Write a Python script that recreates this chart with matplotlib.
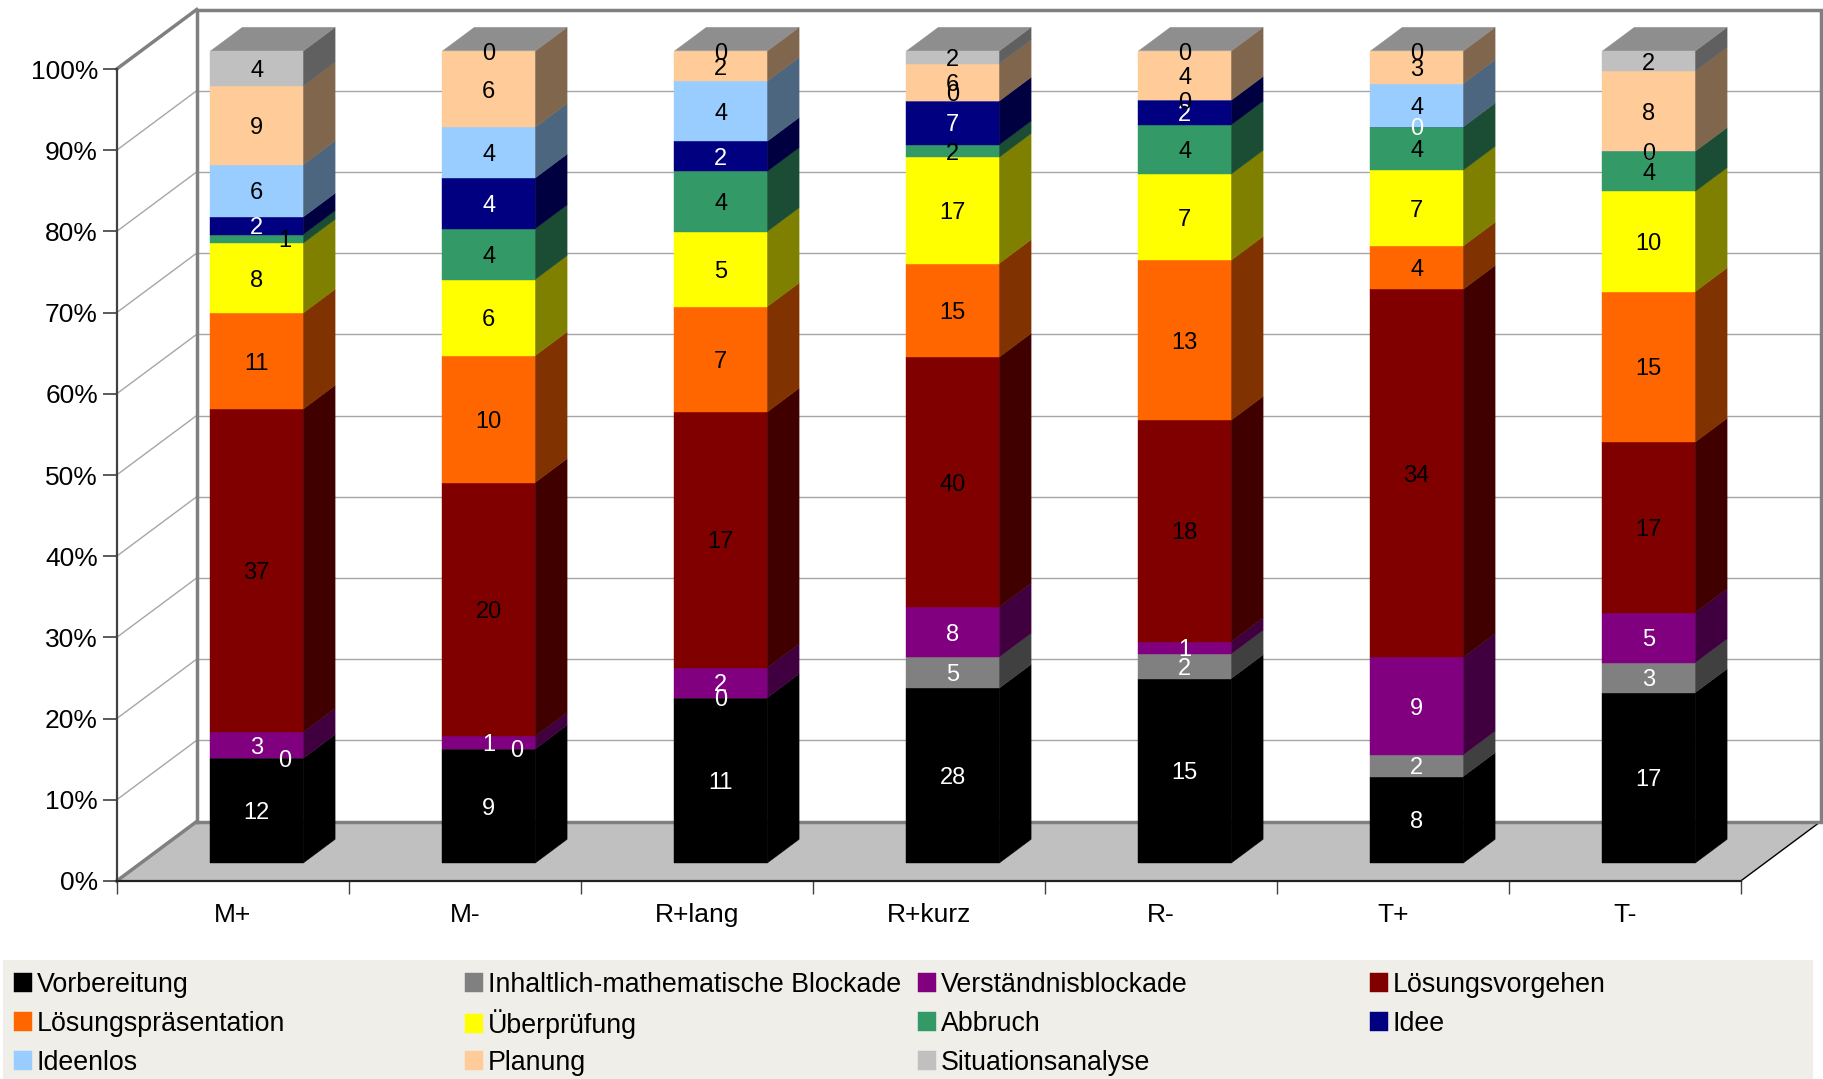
import numpy as np
import matplotlib
matplotlib.use("Agg")
import matplotlib.pyplot as plt
from matplotlib.patches import Polygon, Rectangle
from matplotlib.ticker import PercentFormatter, FixedLocator, NullFormatter
from matplotlib.colors import to_rgb

plt.rcParams['font.family'] = ['Liberation Sans', 'DejaVu Sans']

# ---- data -------------------------------------------------------------
categories = ["M+", "M-", "R+lang", "R+kurz", "R-", "T+", "T-"]

series_names = [
    "Vorbereitung",
    "Inhaltlich-mathematische Blockade",
    "Verständnisblockade",
    "Lösungsvorgehen",
    "Lösungspräsentation",
    "Überprüfung",
    "Abbruch",
    "Idee",
    "Ideenlos",
    "Planung",
    "Situationsanalyse",
]

vorbereitung = [12, 9, 11, 28, 15, 8, 17]
inhaltlich = [0, 0, 0, 5, 2, 2, 3]
verstaendnis = [3, 1, 2, 8, 1, 9, 5]
loesungsvorgehen = [37, 20, 17, 40, 18, 34, 17]
praesentation = [11, 10, 7, 15, 13, 4, 15]
ueberpruefung = [8, 6, 5, 17, 7, 7, 10]
abbruch = [1, 4, 4, 2, 4, 4, 4]
idee = [2, 4, 2, 7, 2, 0, 0]
ideenlos = [6, 4, 4, 0, 0, 4, 0]
planung = [9, 6, 2, 6, 4, 3, 8]
situation = [4, 0, 0, 2, 0, 0, 2]

series_values = [vorbereitung, inhaltlich, verstaendnis, loesungsvorgehen,
                 praesentation, ueberpruefung, abbruch, idee, ideenlos,
                 planung, situation]

series_colors = ["#000000", "#808080", "#800080", "#800000", "#FF6600",
                 "#FFFF00", "#339966", "#000080", "#99CCFF", "#FFCC99",
                 "#C0C0C0"]
label_colors = ["white", "white", "white", "black", "black", "black",
                "black", "white", "black", "black", "black"]

# small offsets (points) for labels that would otherwise collide
label_nudge = {
    (0, 1): (20, 0),
    (0, 6): (20, 0),
    (1, 1): (20, 0),
    (3, 8): (0, 6),
}

# ---- figure / geometry -----------------------------------------------
W, H = 1823, 1079
fig = plt.figure(figsize=(W / 100, H / 100), dpi=100)
fig.patch.set_facecolor("white")

x0_px, y0_px = 116.7, 881.0
cat_px, pct_px = 232.0, 8.12
ax = fig.add_axes([x0_px / W, (H - y0_px) / H, 7 * cat_px / W, 100 * pct_px / H])
ax.set_xlim(0, 7)
ax.set_ylim(0, 100)
ax.patch.set_alpha(0)

DX = 80.0 / cat_px        # depth of the box, in category units
DY = 59.5 / pct_px        # depth of the box, in percent units
F0, F1 = 0.30, 0.70       # front / back depth of the columns
BAR_W = 0.40

wall_col = "#808080"
grid_col = "#a6a6a6"

# back wall gridlines and left wall diagonals
for p in range(10, 100, 10):
    ax.plot([DX, 7 + DX], [p + DY, p + DY], color=grid_col, lw=1.0,
            zorder=0.5, clip_on=False)
    ax.plot([0, DX], [p, p + DY], color=grid_col, lw=1.0, zorder=0.5,
            clip_on=False)
ax.plot([0, DX], [0, DY], color=grid_col, lw=1.0, zorder=0.5, clip_on=False)

# floor
floor = Polygon([(0, 0), (7, 0), (7 + DX, DY), (DX, DY)], closed=True,
                facecolor="#c0c0c0", edgecolor="none", zorder=1, clip_on=False)
ax.add_patch(floor)
ax.plot([7, 7 + DX], [0, DY], color="black", lw=1.0, zorder=1.2, clip_on=False)

# wall outlines
ax.plot([DX, 7 + DX, 7 + DX, DX, DX], [DY, DY, 100 + DY, 100 + DY, DY],
        color=wall_col, lw=2.5, zorder=1.5, clip_on=False,
        solid_joinstyle="miter")
ax.plot([0, DX], [0, DY], color=wall_col, lw=2.5, zorder=1.5, clip_on=False)
ax.plot([0, DX], [100, 100 + DY], color=wall_col, lw=2.5, zorder=1.5,
        clip_on=False)


def shade(c, f):
    r, g, b = to_rgb(c)
    return (r * f, g * f, b * f)


values = np.array(series_values, dtype=float)
totals = values.sum(axis=0)
pct = values / totals * 100.0
cum = np.vstack([np.zeros(len(categories)), np.cumsum(pct, axis=0)])

xc = np.arange(len(categories)) + 0.5 + F0 * DX
yoff = F0 * DY
ddx = (F1 - F0) * DX
ddy = (F1 - F0) * DY

handles = []
for s, name in enumerate(series_names):
    bottoms = cum[s] + yoff
    cont = ax.bar(xc, pct[s], width=BAR_W, bottom=bottoms,
                  color=series_colors[s], edgecolor=series_colors[s],
                  linewidth=0.3, label=name, zorder=3, clip_on=False)
    handles.append(cont)
    side_c = shade(series_colors[s], 0.5)
    for i in range(len(categories)):
        if pct[s, i] <= 0:
            continue
        xr = xc[i] + BAR_W / 2
        y_lo, y_hi = bottoms[i], bottoms[i] + pct[s, i]
        ax.add_patch(Polygon([(xr, y_lo), (xr + ddx, y_lo + ddy),
                              (xr + ddx, y_hi + ddy), (xr, y_hi)],
                             closed=True, facecolor=side_c, edgecolor=side_c,
                             lw=0.3, zorder=2.5, clip_on=False))

# top faces carry the colour of the last series
top_c = shade(series_colors[-1], 0.74)
for i in range(len(categories)):
    xl, xr = xc[i] - BAR_W / 2, xc[i] + BAR_W / 2
    yt = cum[-1][i] + yoff
    ax.add_patch(Polygon([(xl, yt), (xr, yt), (xr + ddx, yt + ddy),
                          (xl + ddx, yt + ddy)], closed=True,
                         facecolor=top_c, edgecolor=top_c, lw=0.3,
                         zorder=2.5, clip_on=False))

# value labels
for s in range(len(series_names)):
    for i in range(len(categories)):
        ymid = (cum[s][i] + cum[s + 1][i]) / 2 + yoff
        off = label_nudge.get((i, s), (0, 0))
        ax.annotate(str(int(values[s, i])), xy=(xc[i], ymid), xytext=off,
                    textcoords="offset points", ha="center",
                    va="center_baseline", fontsize=17,
                    color=label_colors[s], zorder=6, annotation_clip=False)

# axes
for side in ("top", "right"):
    ax.spines[side].set_visible(False)
ax.spines["left"].set_color("#404040")
ax.spines["left"].set_linewidth(1.6)
ax.spines["bottom"].set_color("#202020")
ax.spines["bottom"].set_linewidth(1.6)
ax.spines["left"].set_zorder(4)
ax.spines["bottom"].set_zorder(4)

ax.set_yticks(np.arange(0, 101, 10))
ax.yaxis.set_major_formatter(PercentFormatter(decimals=0))
ax.tick_params(axis="y", direction="out", length=10, width=1.2,
               color="#404040", labelsize=19, pad=3.5)

ax.xaxis.set_major_locator(FixedLocator(np.arange(0, 8)))
ax.xaxis.set_major_formatter(NullFormatter())
ax.xaxis.set_minor_locator(FixedLocator(np.arange(len(categories)) + 0.5))
ax.set_xticklabels(categories, minor=True)
ax.tick_params(axis="x", which="major", direction="out", length=9.5,
               width=1.0, color="#404040")
ax.tick_params(axis="x", which="minor", length=0, labelsize=19, pad=16)

# legend panel: a grid of 4 columns, filled row by row
fig.patches.append(Rectangle((3 / W, 0), (1813 - 3) / W, (H - 960) / H,
                             transform=fig.transFigure, facecolor="#efeee8",
                             edgecolor="none", zorder=0))

col_x = [14, 465, 918, 1370]
row_y = [985, 1024, 1063]
for k, name in enumerate(series_names):
    r, c = divmod(k, 4)
    fig.legend([handles[k]], [name], loc="center left",
               bbox_to_anchor=(col_x[c] / W, 1 - row_y[r] / H),
               bbox_transform=fig.transFigure, frameon=False, fontsize=19.3,
               handlelength=0.67, handleheight=0.67, handletextpad=0.18,
               borderpad=0, borderaxespad=0)

fig.savefig("out.png", dpi=100)
